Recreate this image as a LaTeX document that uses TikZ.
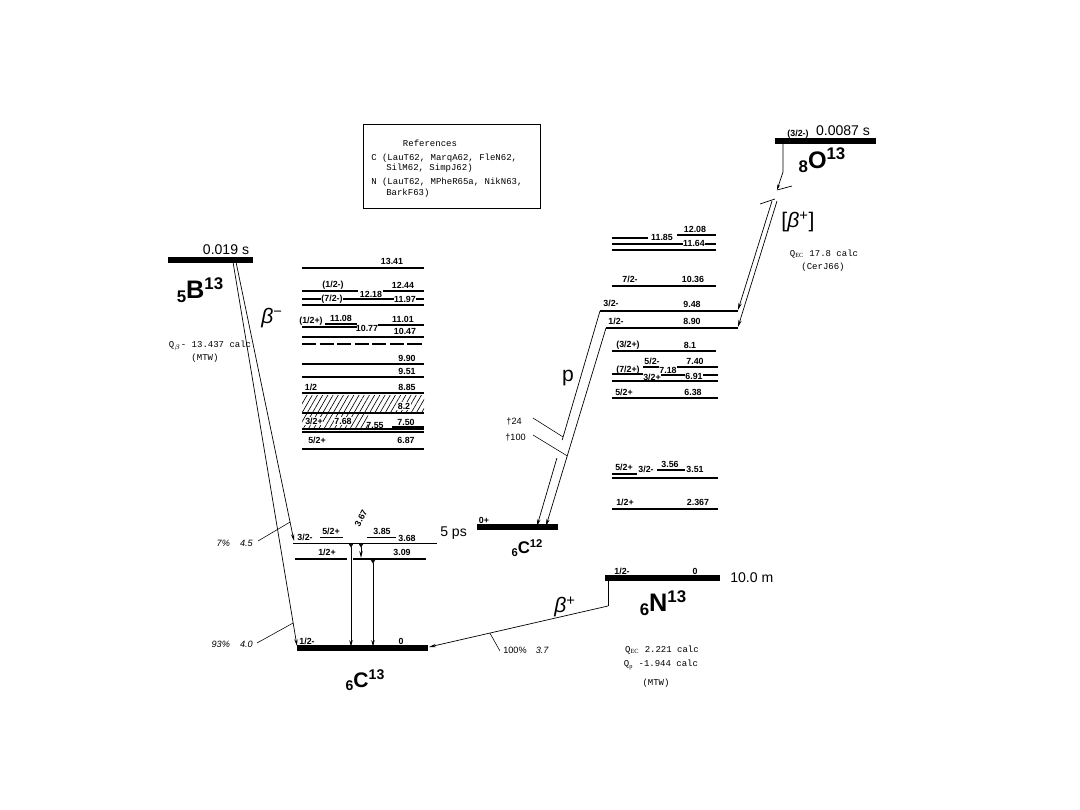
\documentclass[tikz,border=0pt]{standalone}
\usepackage{fontspec}
\setmainfont{Liberation Serif}
\setsansfont{Liberation Sans}
\setmonofont{Liberation Mono}
\usetikzlibrary{arrows.meta, patterns.meta}
\newcommand{\nucl}[5]{{\sffamily\bfseries\fontsize{#2}{#2}\selectfont\raisebox{-0.2em}{#3}}{\sffamily\bfseries\fontsize{#1}{#1}\selectfont #4}{\sffamily\bfseries\fontsize{#2}{#2}\selectfont\raisebox{0.55em}{#5}}}

\begin{document}
\begin{tikzpicture}[
    x=0.025cm, y=-0.025cm,
    lev/.style={line width=0.8pt},
    gsbar/.style={line width=3.6pt},
    lab/.style={font=\sffamily\bfseries\fontsize{6.3}{7}\selectfont, inner sep=0.4pt},
    onlab/.style={lab, fill=white},
    big/.style={font=\sffamily\fontsize{10}{12}\selectfont, inner sep=0pt},
    refs/.style={font=\ttfamily\fontsize{6.4}{8}\selectfont, inner sep=0pt, anchor=west},
    note/.style={font=\ttfamily\fontsize{6.4}{8}\selectfont, inner sep=0pt},
    pct/.style={font=\sffamily\itshape\fontsize{6.5}{8}\selectfont, inner sep=0pt},
    greek/.style={font=\sffamily\fontsize{15}{16}\selectfont, inner sep=0pt},
    decay/.style={line width=0.5pt, -{Stealth[length=5pt,width=2.4pt]}},
    gam/.style={line width=0.5pt, {Triangle[reversed,length=2.5pt,width=3pt]}-{Stealth[length=5pt,width=2.4pt]}},
    tick/.style={line width=0.4pt},
    hatch/.style={pattern={Lines[angle=60,distance=3.2pt,line width=0.45pt]}}
]
\useasboundingbox (0,0) rectangle (1080,810);

% references
\draw[line width=0.6pt] (363,124) rectangle (540,208);
\node[note] (refhead) at (430,143) {References};
\node[refs] (refc1) at (371,158) {C (LauT62, MarqA62, FleN62,};
\node[refs] (refc2) at (386,168) {SilM62, SimpJ62)};
\node[refs] (refn1) at (371,182) {N (LauT62, MPheR65a, NikN63,};
\node[refs] (refn2) at (386,193) {BarkF63)};

% B13
\draw[gsbar] (168,260) -- (253,260);
\node[big] (b13t) at (226,250) {0.019 s};
\node (b13name) at (200,290) {\nucl{18}{12}{5}{B}{13}};
\node[greek] (bminus) at (272,318) {\itshape β\textsuperscript{\upshape −}};
\node[note] (b13q) at (210,346) {Q$_{\beta}$- 13.437 calc};
\node[note] (b13mtw) at (205,358) {(MTW)};

% C13 levels
\draw[gsbar] (297,648) -- (428,648);
\node[lab] (j0) at (307,641) {1/2-};
\node[lab] (e0) at (401,641) {0};
\node (c13name) at (365,680) {\nucl{15}{10}{6}{C}{13}};

\draw[lev, line width=0.7pt] (293,543) -- (437,543);
\node[lab] (j368) at (305,537) {3/2-};
\draw[lev, line width=0.6pt] (320,537) -- (343,537);
\node[lab] (j385) at (331,531) {5/2+};
\draw[lev, line width=0.6pt] (367,537) -- (396,537);
\node[lab] (e385) at (382,531) {3.85};
\node[lab] (e368) at (407,538) {3.68};
\node[big, anchor=west] (t368) at (440,533) {5 ps};
\node[lab, rotate=62] (e367) at (361,518) {3.67};

\draw[lev] (295,559) -- (347,559);
\draw[lev] (353,559) -- (426,559);
\node[lab] (j309) at (327,552) {1/2+};
\node[lab] (e309) at (402,552) {3.09};

\draw[lev] (302,268) -- (424,268);
\node[lab] (e1341) at (392,261) {13.41};
\draw[lev] (302,291) -- (358,291);
\draw[lev] (383,291) -- (424,291);
\node[lab] (j1244) at (333,285) {(1/2-)};
\node[lab] (e1244) at (403,285) {12.44};
\node[lab] (e1218) at (371,294) {12.18};
\draw[lev] (302,299) -- (424,299);
\node[onlab] (j1197) at (332,299) {(7/2-)};
\node[onlab] (e1197) at (405,299) {11.97};
\draw[lev] (302,305) -- (424,305);

\node[lab] (j1108) at (311,321) {(1/2+)};
\node[lab] (e1108) at (341,318) {11.08};
\draw[lev] (325,324) -- (357,324);
\draw[lev] (302,327) -- (357,327);
\node[lab] (e1077) at (367,328) {10.77};
\node[lab] (e1101) at (403,319) {11.01};
\draw[lev] (378,325) -- (424,325);
\node[lab] (e1047) at (405,331) {10.47};
\draw[lev] (302,337) -- (424,337);
\draw[lev, dash pattern=on 10pt off 2.5pt] (302,344) -- (424,344);

\node[lab] (e990) at (407,358) {9.90};
\draw[lev] (302,364) -- (424,364);
\node[lab] (e951) at (407,371) {9.51};
\draw[lev] (302,377) -- (424,377);
\node[lab] (j885) at (311,387) {1/2};
\node[lab] (e885) at (407,387) {8.85};
\draw[lev] (302,393) -- (424,393);

\fill[hatch] (302,395) rectangle (424,413);
\draw[line width=1.4pt] (302,413) -- (424,413);
\fill[hatch] (302,414) rectangle (368,428);
\node[onlab] (e82) at (404,406) {8.2};
\node[onlab] (j768) at (314,421) {3/2+};
\node[onlab] (e768) at (343,421) {7.68};
\node[lab] (e755) at (375,425) {7.55};
\node[lab] (e750) at (406,422) {7.50};
\draw[lev] (392,427) -- (424,427);
\draw[lev] (302,429) -- (424,429);
\draw[lev] (302,432) -- (424,432);

\node[lab] (j687) at (317,440) {5/2+};
\node[lab] (e687) at (406,440) {6.87};
\draw[lev] (302,449) -- (424,449);

% B13 decay
\coordinate (b13a) at (236,262);
\coordinate (b13b) at (233,262);
\coordinate (c13x) at (294,541);
\coordinate (c13g) at (297,646);
\draw[decay] (b13a) -- coordinate[pos=0.932] (tk1) (c13x);
\draw[decay] (b13b) -- coordinate[pos=0.94] (tk2) (c13g);
\coordinate (pc1) at (258,541);
\coordinate (pc2) at (257,643);
\draw[tick] (pc1) -- (tk1);
\draw[tick] (pc2) -- (tk2);
\node[pct, anchor=east] (br1) at (253,543) {7\%\hspace{1.1em}4.5};
\node[pct, anchor=east] (br2) at (253,644) {93\%\hspace{1.1em}4.0};

% gammas in C13
\coordinate (g1t) at (351,544);
\coordinate (g1b) at (351,647);
\coordinate (g2t) at (361,544);
\coordinate (g2b) at (361,558);
\coordinate (g3t) at (373,560);
\coordinate (g3b) at (373,647);
\draw[gam] (g1t) -- (g1b);
\draw[gam] (g2t) -- (g2b);
\draw[gam] (g3t) -- (g3b);

% C12
\draw[gsbar] (477,527) -- (558,527);
\node[lab] (j12) at (484,520) {0+};
\node (c12name) at (527,548) {\nucl{12}{8}{6}{C}{12}};

% N13 levels
\draw[lev] (677,235) -- (716,235);
\node[lab] (e1208) at (695,229) {12.08};
\draw[lev] (612,238) -- (648,238);
\node[lab] (e1185) at (662,237) {11.85};
\draw[lev] (612,244) -- (716,244);
\node[onlab] (e1164) at (694,243) {11.64};
\draw[lev] (612,250) -- (716,250);

\node[lab] (n1036j) at (630,279) {7/2-};
\node[lab] (n1036) at (693,279) {10.36};
\draw[lev] (612,286) -- (716,286);
\node[lab] (n948j) at (611,303) {3/2-};
\node[lab] (n948e) at (692,304) {9.48};
\draw[lev] (600,311) -- (738,311);
\node[lab] (n890j) at (616,321) {1/2-};
\node[lab] (n890e) at (692,321) {8.90};
\draw[lev] (606,328) -- (738,328);
\node[lab] (n81j) at (628,345) {(3/2+)};
\node[lab] (n81e) at (690,345) {8.1};
\draw[lev] (612,351) -- (716,351);

\draw[lev] (643,367) -- (718,367);
\node[lab] (n740j) at (652,361) {5/2-};
\node[lab] (n740e) at (695,361) {7.40};
\node[lab] (n718j) at (628,370) {(7/2+)};
\draw[lev] (612,374) -- (643,374);
\draw[lev] (660,375) -- (718,375);
\node[onlab] (n718e) at (668,370) {7.18};
\node[onlab] (n691j) at (652,377) {3/2+};
\node[onlab] (n691e) at (694,376) {6.91};
\draw[lev] (612,381) -- (718,381);
\node[lab] (n638j) at (624,392) {5/2+};
\node[lab] (n638e) at (693,392) {6.38};
\draw[lev] (612,398) -- (718,398);

\node[lab] (n356j) at (624,467) {5/2+};
\node[lab] (n351j) at (646,469) {3/2-};
\node[lab] (n356e) at (670,464) {3.56};
\node[lab] (n351e) at (695,469) {3.51};
\draw[lev] (612,474) -- (637,474);
\draw[lev] (657,470) -- (685,470);
\draw[lev] (612,478) -- (718,478);
\node[lab] (n2367j) at (625,502) {1/2+};
\node[lab] (n2367e) at (698,502) {2.367};
\draw[lev] (612,509) -- (718,509);

\draw[gsbar] (605,578) -- (720,578);
\node[lab] (n0j) at (622,571) {1/2-};
\node[lab] (n0e) at (695,571) {0};
\node[big, anchor=west] (n13t) at (730,578) {10.0 m};
\node (n13name) at (663,603) {\nucl{18}{12}{6}{N}{13}};
\node[note] (n13q1) at (662,650) {Q$_{\mathrm{EC}}$ 2.221 calc};
\node[note] (n13q2) at (661,665) {Q$_{\mathrm{p}}$ -1.944 calc};
\node[note] (n13mtw) at (656,683) {(MTW)};

% proton decay
\coordinate (n948) at (600,311);
\coordinate (n890) at (606,328);
\coordinate (c12a) at (537,526);
\coordinate (c12b) at (546,526);
\path (n948) -- coordinate[pos=0.586] (pk1) coordinate[pos=0.6] (pg1) coordinate[pos=0.684] (pg2) (c12a);
\draw[line width=0.5pt] (n948) -- (pg1);
\draw[decay] (pg2) -- (c12a);
\draw[decay] (n890) -- coordinate[pos=0.646] (pk2) (c12b);
\coordinate (pt1) at (533,418);
\coordinate (pt2) at (533,435);
\draw[tick] (pt1) -- (pk1);
\draw[tick] (pt2) -- (pk2);
\node[font=\sffamily\fontsize{6.5}{8}\selectfont, inner sep=0pt, anchor=east] (pi1) at (522,421) {\textdagger 24};
\node[font=\sffamily\fontsize{6.5}{8}\selectfont, inner sep=0pt, anchor=east] (pi2) at (526,437) {\textdagger 100};
\node[font=\sffamily\fontsize{15}{16}\selectfont, inner sep=0pt] (plab) at (568,378) {p};

% N13 decay
\coordinate (n13) at (608,580);
\coordinate (n13k) at (608,606);
\coordinate (c13r) at (429,647);
\draw[line width=0.5pt] (n13) -- (n13k);
\draw[decay] (n13k) -- coordinate[pos=0.66] (bk) (c13r);
\coordinate (bt) at (500,651);
\draw[tick] (bk) -- (bt);
\node[font=\sffamily\fontsize{6.5}{8}\selectfont, inner sep=0pt, anchor=west] (br3) at (503,650) {100\%\hspace{1em}\textit{3.7}};
\node[greek] (bplus) at (565,607) {\itshape β\textsuperscript{\upshape +}};

% O13
\draw[gsbar] (775,141) -- (876,141);
\node[lab] (o13j) at (798,134) {(3/2-)};
\node[big] (o13t) at (843,131) {0.0087 s};
\node (o13name) at (822,160) {\nucl{17}{12}{8}{O}{13}};
\coordinate (o13) at (783,143);
\coordinate (o13k) at (783,172);
\coordinate (o13h) at (777,190);
\coordinate (o13z) at (792,186);
\coordinate (o13y) at (760,204);
\coordinate (o13w) at (775,199);
\draw[line width=0.5pt, -{Stealth[length=4pt,width=2pt]}] (o13) -- (o13k) -- (o13h);
\draw[line width=0.5pt] (o13h) -- (o13z);
\draw[line width=0.5pt] (o13y) -- (o13w);
\coordinate (o13a) at (772,201);
\coordinate (o13b) at (777,201);
\coordinate (n948r) at (738,310);
\coordinate (n890r) at (738,327);
\draw[decay] (o13a) -- (n948r);
\draw[decay] (o13b) -- (n890r);
\node[greek] (bplus2) at (798,222) {[{\itshape β}\textsuperscript{+}]};
\node[note] (o13q) at (824,254) {Q$_{\mathrm{EC}}$ 17.8 calc};
\node[note] (o13ref) at (823,267) {(CerJ66)};

\end{tikzpicture}
\end{document}
